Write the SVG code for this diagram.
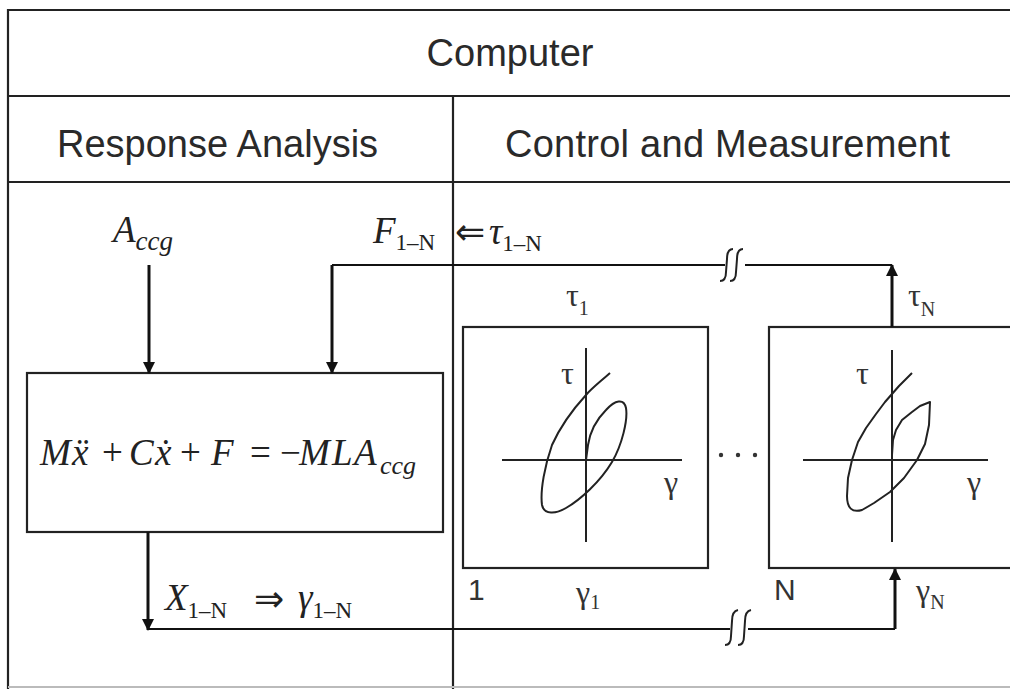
<svg xmlns="http://www.w3.org/2000/svg" width="1010" height="689" viewBox="0 0 1010 689">
<style>
.frame{fill:none;stroke:#222;stroke-width:2.2}
.box{fill:#fff;stroke:#222;stroke-width:2.2}
.conn{fill:none;stroke:#111;stroke-width:2}
.arr{fill:none;stroke:#111;stroke-width:3}
.axis{fill:none;stroke:#222;stroke-width:2}
.curve{fill:none;stroke:#222;stroke-width:2;stroke-linejoin:round}
.brk{fill:none;stroke:#222;stroke-width:2}
.hdr{font-family:"Liberation Sans",Arial,sans-serif;font-size:38px;fill:#2a2a2a}
.math{font-family:"Liberation Serif","DejaVu Serif",serif;font-style:italic;font-size:37px;fill:#222}
.up{font-style:normal}
.sym{font-style:normal;font-family:"DejaVu Sans",sans-serif;font-size:36px}
.gr{font-family:"Liberation Serif","DejaVu Serif",serif;font-size:32px;fill:#333}
.lbl{font-family:"Liberation Sans",Arial,sans-serif;font-size:30px;fill:#333}
</style>
<defs>
<marker id="ah" viewBox="0 0 12 12" refX="11" refY="6" markerWidth="12" markerHeight="12" markerUnits="userSpaceOnUse" orient="auto">
<path d="M0,0 L12,6 L0,12 z" fill="#111"/>
</marker>
</defs>
<rect width="1010" height="689" fill="#fff"/>

<g id="frame">
<path class="frame" d="M8,689 V10 H1010"/>
<line class="frame" x1="8" y1="96" x2="1010" y2="96"/>
<line class="frame" x1="8" y1="182" x2="1010" y2="182"/>
<line class="frame" x1="453" y1="96" x2="453" y2="689"/>
<line x1="8" y1="687" x2="1010" y2="687" stroke="#bbb" stroke-width="2"/>
</g>

<g id="header-computer"><text class="hdr" x="510" y="66" text-anchor="middle">Computer</text></g>
<g id="header-response"><text class="hdr" x="57" y="157">Response Analysis</text></g>
<g id="header-control"><text class="hdr" x="505" y="157" textLength="445">Control and Measurement</text></g>

<g id="equation-box">
<rect class="box" x="27" y="373" width="416" height="159"/>
<text class="math" y="465"><tspan x="40">M</tspan><tspan x="72">ẍ</tspan><tspan class="up" x="102">+</tspan><tspan x="129">C</tspan><tspan x="155">ẋ</tspan><tspan class="up" x="180">+</tspan><tspan x="211">F</tspan><tspan class="up" x="250">=</tspan><tspan class="up" x="280">−</tspan><tspan x="299">M</tspan><tspan x="332">L</tspan><tspan x="354">A</tspan><tspan x="380" font-size="26" dy="9">ccg</tspan></text>
</g>

<g id="input-accg"><text class="math" x="113" y="242">A<tspan font-size="27" dy="8">ccg</tspan></text></g>

<g id="label-force"><text class="math" x="373" y="243">F<tspan class="up" font-size="23" dy="7">1–N</tspan></text>
<text class="math" x="455" y="244"><tspan class="sym">⇐</tspan><tspan x="489">τ</tspan><tspan class="up" font-size="23" dy="7">1–N</tspan></text></g>

<g id="label-disp"><text class="math" x="165" y="610">X<tspan class="up" font-size="23" dy="8">1–N</tspan><tspan x="254" dy="-7" class="sym">⇒</tspan><tspan x="298" dy="-1">γ</tspan><tspan class="up" font-size="23" dy="8">1–N</tspan></text></g>

<g id="specimen-1">
<rect class="box" x="463" y="327" width="245" height="241"/>
<line class="axis" x1="586" y1="348" x2="586" y2="542"/>
<line class="axis" x1="502" y1="460" x2="682" y2="460"/>
<path class="curve" d="M610,373 C600,382 592,388 586,395 C575,407 561,425 552,445 C545,465 540,490 542,505 C544,515 556,514 566,508 C580,500 600,482 612,462 C622,445 628,420 626,408 C624,398 615,400 606,410 C596,420 590,432 588,445 L586,460"/>
<text class="gr" x="561" y="384">τ</text>
<text class="gr" x="664" y="493">γ</text>
<text class="gr" x="566" y="306">τ<tspan font-size="20" dy="9">1</tspan></text>
<text class="gr" x="576" y="603">γ<tspan font-size="20" dy="6">1</tspan></text>
<text class="lbl" x="468" y="600">1</text>
</g>

<g id="ellipsis">
<circle cx="721" cy="455" r="2.2" fill="#333"/>
<circle cx="738" cy="455" r="2.2" fill="#333"/>
<circle cx="755" cy="455" r="2.2" fill="#333"/>
</g>

<g id="specimen-N">
<rect class="box" x="769" y="327" width="260" height="241"/>
<line class="axis" x1="892" y1="350" x2="892" y2="542"/>
<line class="axis" x1="803" y1="460" x2="988" y2="460"/>
<path class="curve" d="M912,373 L905,380 L899,386 L892,394 L885,402 L876,414 L866,428 L858,442 L852,460 L848,478 L847,496 C847,508 852,513 862,510 L874,503 L890,492 L904,478 L917,460 L925,444 L929,425 L930,402 L920,406 L912,412 L902,420 L896,430 L893,440 L892,455"/>
<text class="gr" x="856" y="384">τ</text>
<text class="gr" x="967" y="493">γ</text>
<text class="gr" x="908" y="306">τ<tspan font-size="20" dy="10">N</tspan></text>
<text class="gr" x="916" y="601">γ<tspan font-size="20" dy="8">N</tspan></text>
<text class="lbl" x="774" y="600">N</text>
</g>

<g id="connectors">
<line class="arr" x1="149" y1="265" x2="149" y2="373" marker-end="url(#ah)"/>
<path class="conn" d="M725,265 H332"/>
<line class="arr" x1="332" y1="265" x2="332" y2="373" marker-end="url(#ah)"/>
<path class="conn" d="M745,265 H892"/>
<line class="arr" x1="892" y1="327" x2="892" y2="265" marker-end="url(#ah)"/>
<line class="arr" x1="148" y1="532" x2="148" y2="630" marker-end="url(#ah)"/>
<path class="conn" d="M148,629 H730"/>
<path class="conn" d="M748,629 H895"/>
<line class="arr" x1="895" y1="629" x2="895" y2="569" marker-end="url(#ah)"/>
<path class="brk" d="M733,249 C728,249 727,254 727,259 L726,272 C726,278 724,281 720,281"/>
<path class="brk" d="M743,249 C738,249 737,254 737,259 L736,272 C736,278 734,281 730,281"/>
<path class="brk" d="M738,610 C733,611 732,616 732,621 L731,636 C731,642 729,645 725,645"/>
<path class="brk" d="M751,610 C746,611 745,616 745,621 L744,636 C744,642 742,645 738,645"/>
</g>
</svg>
